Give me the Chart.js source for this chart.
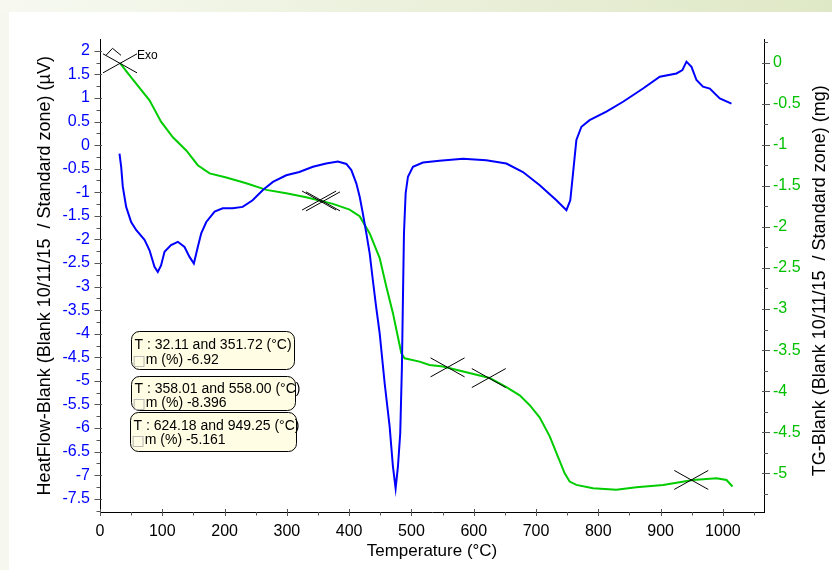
<!DOCTYPE html>
<html>
<head>
<meta charset="utf-8">
<script src="https://cdn.jsdelivr.net/npm/chart.js@4.4.1/dist/chart.umd.min.js"></script>
<style>
    html, body { margin: 0; padding: 0; }
    body {
        width: 832px; height: 570px; overflow: hidden; position: relative;
        background: linear-gradient(to right, #f7f9f1, #dfe8c6);
    }
    #painel { position: absolute; left: 9px; top: 12px; right: 0; bottom: 0; background: #ffffff; }
    #faixa { position: absolute; left: 0; top: 12px; width: 9px; bottom: 0; background: #f6f8ef; }
    #caixa-grafico { position: absolute; left: 0; top: 0; width: 832px; height: 570px; }
</style>
</head>
<body>
<div id="faixa"></div>
<div id="painel"></div>
<div id="caixa-grafico"><canvas data-js="grafico-atg" width="832" height="570"></canvas></div>
<script>
// HeatFlow (eixo da esquerda, µV)
const temperaturasFluxo = [31.3, 34, 36.6, 42, 50, 58, 71.5, 79.5, 87.5, 92.8, 98, 103.6, 114, 125, 135.7,
    143.7, 150.7, 157, 162.5, 170.6, 184, 197, 213, 229, 245, 261.5, 277.6, 299, 320, 341.8, 363, 382,
    395.5, 403.5, 411.5, 417, 422, 427.6, 433, 438, 443, 449, 457, 465, 470.3, 474.6, 478.3, 482, 484.7,
    486.3, 488, 490.7, 494.4, 502.4, 518.5, 545, 582.7, 620, 652.4, 679, 706, 732.7, 748.8, 755, 759.4,
    764.8, 772.9, 786, 813, 839.7, 871.8, 898.7, 925.5, 935, 941.5, 949.6, 957.6, 968, 979, 995, 1013.8];
const fluxoCalor = [-0.18, -0.46, -0.88, -1.31, -1.63, -1.80, -2.01, -2.23, -2.58, -2.69, -2.55, -2.26, -2.12, -2.05, -2.16,
    -2.37, -2.51, -2.16, -1.87, -1.63, -1.41, -1.34, -1.34, -1.31, -1.17, -0.95, -0.78, -0.64, -0.57, -0.46, -0.39, -0.35,
    -0.40, -0.53, -0.81, -1.10, -1.45, -1.87, -2.30, -2.86, -3.40, -3.99, -5.05, -5.97, -6.82, -7.28, -6.82, -6.11, -4.70,
    -3.29, -1.87, -1.02, -0.67, -0.46, -0.37, -0.33, -0.29, -0.32, -0.39, -0.57, -0.85, -1.17, -1.38, -1.17, -0.60,
    0.11, 0.39, 0.53, 0.71, 0.92, 1.20, 1.45, 1.52, 1.59, 1.77, 1.66, 1.38, 1.24, 1.20, 0.99, 0.88];

// TG (eixo da direita, mg)
const temperaturasTG = [32.4, 50, 79.5, 98, 117, 138.5, 157, 176, 202.7, 234.8, 267, 299, 331, 374, 400.7,
    416.8, 433, 449, 459.7, 470.3, 478.3, 483.8, 489, 513, 529, 550.6, 588, 625.6, 652.4, 673.8, 689.9,
    706, 722, 735.3, 746, 754, 764.8, 791.5, 829, 861, 904, 952, 989.7, 1005.8, 1015.4];
const massaTG = [-0.01, -0.18, -0.46, -0.72, -0.91, -1.07, -1.25, -1.35, -1.40, -1.47, -1.55, -1.59, -1.64, -1.72, -1.79,
    -1.87, -2.08, -2.38, -2.73, -3.05, -3.34, -3.54, -3.60, -3.64, -3.68, -3.70, -3.77, -3.84, -3.95, -4.05, -4.17,
    -4.32, -4.55, -4.80, -5.00, -5.10, -5.14, -5.18, -5.20, -5.17, -5.14, -5.08, -5.06, -5.08, -5.16];

// marcadores (cruzes) sobre a curva TG
const temperaturasMarcadores = [32.11, 351.72, 358.01, 558.00, 624.18, 949.25];
const massaMarcadores = [-0.01, -1.68, -1.69, -3.71, -3.84, -5.08];

// caixas de resultado
const textosIntervalo = ['T : 32.11 and 351.72 (°C)', 'T : 358.01 and 558.00 (°C)', 'T : 624.18 and 949.25 (°C)'];
const textosPerda = ['m (%) -6.92', 'm (%) -8.396', 'm (%) -5.161'];

const fonte = 'Liberation Sans, Arial, sans-serif';
Chart.defaults.font.family = fonte;

function montarPontos(xs, ys) {
    return xs.map((x, i) => ({ x: x, y: ys[i] }));
}

function rotuloSimples(valor) {
    return String(Math.round(valor * 100) / 100);
}

function linha(ctx, x1, y1, x2, y2) {
    ctx.beginPath();
    ctx.moveTo(x1, y1);
    ctx.lineTo(x2, y2);
    ctx.stroke();
}

function valoresMenores(escala, passo) {
    const lista = [];
    const inicio = Math.ceil(escala.min / passo);
    const fim = Math.floor(escala.max / passo);
    for (let k = inicio; k <= fim; k++) {
        if (k % 2 !== 0) lista.push(k * passo);
    }
    return lista;
}

function caixaArredondada(ctx, x, y, w, h, r) {
    ctx.beginPath();
    ctx.moveTo(x + r, y);
    ctx.arcTo(x + w, y, x + w, y + h, r);
    ctx.arcTo(x + w, y + h, x, y + h, r);
    ctx.arcTo(x, y + h, x, y, r);
    ctx.arcTo(x, y, x + w, y, r);
    ctx.closePath();
}

const desenhosExtras = {
    id: 'desenhosExtras',
    afterDraw(chart) {
        const { ctx, chartArea: area, scales } = chart;
        const eixoX = scales.x;
        const eixoFluxo = scales.yFluxo;
        const eixoTG = scales.yTG;
        ctx.save();

        // tracos dos eixos
        ctx.strokeStyle = '#555';
        ctx.lineWidth = 1;
        eixoX.ticks.forEach((t) => {
            const px = Math.round(eixoX.getPixelForValue(t.value)) + 0.5;
            linha(ctx, px, area.bottom - 3, px, area.bottom + 4);
        });
        valoresMenores(eixoX, 50).forEach((v) => {
            const px = Math.round(eixoX.getPixelForValue(v)) + 0.5;
            linha(ctx, px, area.bottom, px, area.bottom + 3.5);
        });
        eixoFluxo.ticks.forEach((t) => {
            const py = Math.round(eixoFluxo.getPixelForValue(t.value)) + 0.5;
            linha(ctx, area.left - 5.5, py, area.left + 2, py);
        });
        valoresMenores(eixoFluxo, 0.25).forEach((v) => {
            const py = Math.round(eixoFluxo.getPixelForValue(v)) + 0.5;
            linha(ctx, area.left - 3.5, py, area.left, py);
        });
        eixoTG.ticks.forEach((t) => {
            const py = Math.round(eixoTG.getPixelForValue(t.value)) + 0.5;
            linha(ctx, area.right - 2, py, area.right + 6, py);
        });
        valoresMenores(eixoTG, 0.25).forEach((v) => {
            const py = Math.round(eixoTG.getPixelForValue(v)) + 0.5;
            linha(ctx, area.right, py, area.right + 4, py);
        });

        // cruzes sobre a curva TG
        ctx.strokeStyle = '#000';
        temperaturasMarcadores.forEach((t, i) => {
            const cx = eixoX.getPixelForValue(t);
            const cy = eixoTG.getPixelForValue(massaMarcadores[i]);
            linha(ctx, cx - 17, cy - 9.5, cx + 17, cy + 9.5);
            linha(ctx, cx - 17, cy + 9.5, cx + 17, cy - 9.5);
        });

        // simbolo Exo no primeiro marcador
        const ex = eixoX.getPixelForValue(temperaturasMarcadores[0]);
        const ey = eixoTG.getPixelForValue(massaMarcadores[0]);
        ctx.beginPath();
        ctx.moveTo(ex - 14, ey - 8);
        ctx.lineTo(ex - 7.5, ey - 15);
        ctx.lineTo(ex + 1, ey - 8);
        ctx.stroke();
        ctx.fillStyle = '#000';
        ctx.font = '12px ' + fonte;
        ctx.textAlign = 'left';
        ctx.textBaseline = 'middle';
        ctx.fillText('Exo', ex + 17, ey - 7.5);

        // caixas de resultado
        const caixas = [
            { x: 131.5, y: 331.5, w: 163, h: 38, l1: 345.5, l2: 360 },
            { x: 131.5, y: 376.5, w: 164, h: 34, l1: 389, l2: 403.5 },
            { x: 130.5, y: 412.5, w: 166, h: 39, l1: 426.5, l2: 440.5 },
        ];
        caixas.forEach((c, i) => {
            caixaArredondada(ctx, c.x, c.y, c.w, c.h, 8);
            ctx.fillStyle = '#fffde3';
            ctx.fill();
            ctx.strokeStyle = '#000';
            ctx.stroke();
            ctx.font = '14px ' + fonte;
            ctx.fillStyle = '#000';
            ctx.fillText(textosIntervalo[i], c.x + 3, c.l1);
            ctx.font = '14px DejaVu Sans';
            ctx.fillStyle = '#a8a8a8';
            ctx.fillText('\u25A1', c.x + 1, c.l2 + 1);
            const larg = ctx.measureText('\u25A1').width;
            ctx.font = '14px ' + fonte;
            ctx.fillStyle = '#000';
            ctx.fillText(textosPerda[i], c.x + 1 + larg, c.l2);
        });

        // titulo do eixo da direita (lido de baixo para cima)
        ctx.save();
        ctx.translate(820, (area.top + area.bottom) / 2 + 5);
        ctx.rotate(-Math.PI / 2);
        ctx.font = '18px ' + fonte;
        ctx.fillStyle = '#000';
        ctx.textAlign = 'center';
        ctx.fillText('TG-Blank (Blank 10/11/15  / Standard zone) (mg)', 0, 0);
        ctx.restore();

        ctx.restore();
    }
};

const grafico = document.querySelector('[data-js="grafico-atg"]');

const graficoAtg = new Chart(grafico, {
    type: 'line',
    data: {
        datasets: [{
            label: 'HeatFlow',
            data: montarPontos(temperaturasFluxo, fluxoCalor),
            yAxisID: 'yFluxo',
            borderColor: '#0000ff',
            borderWidth: 2,
            pointRadius: 0,
            tension: 0
        }, {
            label: 'TG',
            data: montarPontos(temperaturasTG, massaTG),
            yAxisID: 'yTG',
            borderColor: '#00cc00',
            borderWidth: 2,
            pointRadius: 0,
            tension: 0
        }]
    },
    options: {
        responsive: false,
        animation: false,
        devicePixelRatio: 1,
        layout: { padding: { top: 39.5, left: 0, right: 0, bottom: 0 } },
        plugins: { legend: { display: false }, tooltip: { enabled: false } },
        scales: {
            x: {
                type: 'linear',
                position: 'bottom',
                min: 0,
                max: 1066,
                ticks: { stepSize: 100, includeBounds: false, autoSkip: false, maxRotation: 0, color: '#000', font: { size: 16 }, padding: 10, callback: rotuloSimples },
                grid: { display: false, drawTicks: false },
                border: { display: true, color: '#000', width: 1 },
                title: { display: true, text: 'Temperature (°C)', color: '#000', font: { size: 17 }, padding: { top: 0, bottom: 8 } },
                afterFit: (escala) => { escala.height = 58; }
            },
            yFluxo: {
                type: 'linear',
                position: 'left',
                min: -7.78,
                max: 2.24,
                ticks: { stepSize: 0.5, includeBounds: false, autoSkip: false, color: '#0000ff', font: { size: 16 }, padding: 10, callback: rotuloSimples },
                grid: { display: false, drawTicks: false },
                border: { display: true, color: '#000', width: 1 },
                title: { display: true, text: 'HeatFlow-Blank (Blank 10/11/15  / Standard zone) (µV)', color: '#000', font: { size: 18 }, padding: { top: 34, bottom: 0 } },
                afterFit: (escala) => { escala.width = 100; }
            },
            yTG: {
                type: 'linear',
                position: 'right',
                min: -5.47,
                max: 0.28,
                ticks: { stepSize: 0.5, includeBounds: false, autoSkip: false, color: '#00c000', font: { size: 16 }, padding: 9, callback: rotuloSimples },
                grid: { display: false, drawTicks: false },
                border: { display: true, color: '#000', width: 1 },
                afterFit: (escala) => { escala.width = 68; }
            }
        }
    },
    plugins: [desenhosExtras]
});
</script>
</body>
</html>
